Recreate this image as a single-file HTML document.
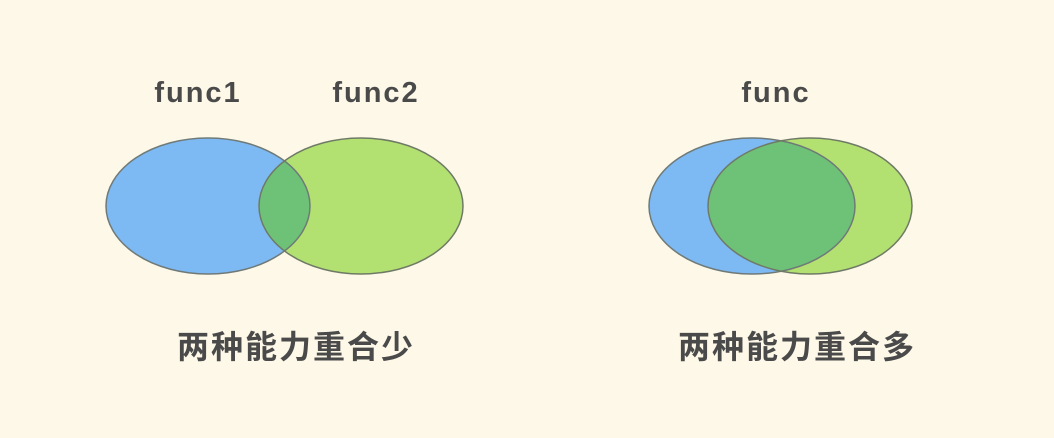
<!DOCTYPE html>
<html><head><meta charset="utf-8"><style>
html,body{margin:0;padding:0;background:#fdf8e7;}
svg{display:block}
text{font-family:"Liberation Sans","Noto Sans CJK SC",sans-serif;font-weight:bold;fill:#4a4a4a;text-anchor:middle}
</style></head><body>
<svg width="1054" height="438" viewBox="0 0 1054 438">
<rect width="1054" height="438" fill="#fdf8e7"/>
<defs>
<clipPath id="c1"><ellipse cx="208" cy="206" rx="102" ry="68"/></clipPath>
<clipPath id="c2"><ellipse cx="752" cy="206" rx="103" ry="68"/></clipPath>
</defs>
<text x="198" y="102" font-size="29" letter-spacing="2">func1</text>
<text x="376" y="102" font-size="29" letter-spacing="2">func2</text>
<text x="776" y="102" font-size="29" letter-spacing="2">func</text>
<ellipse cx="208" cy="206" rx="102" ry="68" fill="#7db9f2"/>
<ellipse cx="361" cy="206" rx="102" ry="68" fill="#b2e171"/>
<ellipse cx="361" cy="206" rx="102" ry="68" fill="#6ec277" clip-path="url(#c1)"/>
<ellipse cx="208" cy="206" rx="102" ry="68" fill="none" stroke="#6f7a78" stroke-width="1.5"/>
<ellipse cx="361" cy="206" rx="102" ry="68" fill="none" stroke="#6f7a66" stroke-width="1.5"/>
<ellipse cx="752" cy="206" rx="103" ry="68" fill="#7db9f2"/>
<ellipse cx="810" cy="206" rx="102" ry="68" fill="#b2e171"/>
<ellipse cx="810" cy="206" rx="102" ry="68" fill="#6ec277" clip-path="url(#c2)"/>
<ellipse cx="752" cy="206" rx="103" ry="68" fill="none" stroke="#6f7a78" stroke-width="1.5"/>
<ellipse cx="810" cy="206" rx="102" ry="68" fill="none" stroke="#6f7a66" stroke-width="1.5"/>
<text x="296" y="358" font-size="32" letter-spacing="2">两种能力重合少</text>
<text x="797" y="358" font-size="32" letter-spacing="2">两种能力重合多</text>
</svg>
</body></html>
